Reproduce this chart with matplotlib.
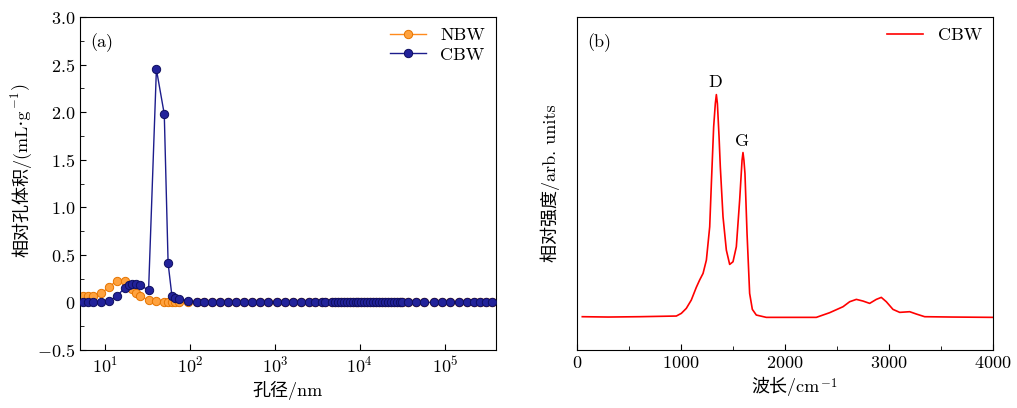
import matplotlib
matplotlib.use("Agg")
import matplotlib.pyplot as plt
from matplotlib.ticker import MultipleLocator, NullLocator, LogLocator, FuncFormatter

plt.rcParams["font.family"] = ["cmr10", "DejaVu Serif", "Noto Sans CJK SC"]
plt.rcParams["mathtext.fontset"] = "cm"
plt.rcParams["axes.formatter.use_mathtext"] = True
plt.rcParams["font.size"] = 13

# (a) pore size distribution, pore size in nm
pore_x = [5.5, 6.3, 7.3, 9.1, 11.1, 13.9, 17.1, 19.0, 21.0, 23.0, 26.0, 32.7,
          40.4, 50.0, 55.5, 61.5, 67.5, 74.0, 96.0,
          121, 148, 182, 225, 282, 350, 435, 545, 666, 834, 1047, 1313, 1616,
          2043, 2540, 2963, 3550, 3884,
          4700, 5100, 5500, 6000, 6500, 7000, 7600, 8200, 8900, 9600, 10400,
          11300, 12200, 13200, 14300, 15500, 16800, 18200, 19700, 21300, 23100,
          25000, 27100, 29300, 31700,
          36400, 45700, 56200, 73800, 92700, 116000, 145000, 183000, 219000,
          262000, 301000, 361000]
n_tail = len(pore_x) - 19
cbw_vol = [0, 0, 0, 0, 0.01, 0.07, 0.15, 0.18, 0.19, 0.19, 0.18, 0.13,
           2.45, 1.98, 0.41, 0.07, 0.05, 0.035, 0.02] + [0.0] * n_tail
nbw_vol = [0.065, 0.065, 0.065, 0.095, 0.16, 0.23, 0.22, 0.18, 0.14, 0.10,
           0.066, 0.025, 0.014, 0.007, 0.004, 0.003, 0.002, 0.002, 0.0] + [0.0] * n_tail

# (b) Raman spectrum of CBW
wavenumber = [51, 300, 600, 955, 1003, 1051, 1099, 1147, 1179, 1212, 1244,
              1276, 1292, 1314, 1330, 1340, 1350, 1366, 1378, 1404, 1436, 1468,
              1500, 1532, 1564, 1587, 1596, 1605, 1615, 1635, 1660, 1686, 1724,
              1820, 2000, 2301, 2429, 2558, 2622, 2686, 2750, 2814, 2878, 2926,
              2974, 3038, 3103, 3199, 3263, 3343, 3600, 4000]
intensity = [0.100, 0.099, 0.100, 0.102, 0.110, 0.125, 0.150, 0.188, 0.210,
             0.230, 0.270, 0.370, 0.500, 0.670, 0.740, 0.767, 0.740, 0.640,
             0.550, 0.400, 0.300, 0.257, 0.265, 0.310, 0.450, 0.570, 0.593,
             0.570, 0.530, 0.350, 0.170, 0.122, 0.105, 0.098, 0.098, 0.098,
             0.112, 0.130, 0.145, 0.152, 0.147, 0.140, 0.152, 0.158, 0.145,
             0.122, 0.113, 0.115, 0.108, 0.100, 0.099, 0.098]


def vol_fmt(v, pos):
    if abs(v) < 1e-9:
        return "$\\mathdefault{0}$"
    return "$\\mathdefault{%.1f}$" % v


fig = plt.figure(figsize=(10.17, 4.08), dpi=100)
ax1 = fig.add_axes([80 / 1017, 58 / 408, 416 / 1017, 333 / 408])
ax2 = fig.add_axes([577 / 1017, 58 / 408, 416 / 1017, 333 / 408])

ax1.plot(pore_x, nbw_vol, "-o", color="#ff8a1c", lw=1.0, ms=6,
         mfc="#ffa23e", mec="#e57400", mew=0.7, label="NBW", zorder=2)
ax1.plot(pore_x, cbw_vol, "-o", color="#1c1c8c", lw=1.0, ms=6,
         mfc="#22229a", mec="#0e0e60", mew=0.7, label="CBW", zorder=3)
ax1.set_xscale("log")
ax1.set_xlim(5.1, 4.0e5)
ax1.set_ylim(-0.5, 3.0)
ax1.yaxis.set_major_locator(MultipleLocator(0.5))
ax1.yaxis.set_minor_locator(MultipleLocator(0.25))
ax1.yaxis.set_major_formatter(FuncFormatter(vol_fmt))
ax1.xaxis.set_major_locator(LogLocator(base=10, numticks=10))
ax1.xaxis.set_minor_locator(NullLocator())
ax1.tick_params(direction="in", which="both", top=False, right=False)
ax1.tick_params(which="major", length=4)
ax1.tick_params(which="minor", length=3)
ax1.set_xlabel("孔径/nm", labelpad=4)
ax1.set_ylabel("相对孔体积/(mL\u22c5g", labelpad=4)
ax1.text(0.025, 0.95, "(a)", transform=ax1.transAxes, ha="left", va="top")
ax1.legend(loc="upper right", frameon=False, handlelength=2.0,
           borderaxespad=0.2, labelspacing=0.2)
# superscript and closing bracket continue the rotated y label
ax1.annotate("$^{-1}$)", xy=(1, 1), xycoords=ax1.yaxis.label,
             xytext=(-4.5, 0.5), textcoords="offset pixels",
             rotation=90, rotation_mode="anchor", ha="left", va="baseline")

ax2.plot(wavenumber, intensity, color="#ff0000", lw=1.2, label="CBW")
ax2.set_xlim(0, 4000)
ax2.set_ylim(0, 1)
ax2.xaxis.set_major_locator(MultipleLocator(1000))
ax2.xaxis.set_minor_locator(MultipleLocator(500))
ax2.yaxis.set_major_locator(NullLocator())
ax2.tick_params(direction="in", which="both", top=False, right=False)
ax2.tick_params(which="major", length=4)
ax2.tick_params(which="minor", length=3)
ax2.set_xlabel("波长/cm", labelpad=4)
ax2.set_ylabel("相对强度/arb. units", labelpad=12)
ax2.annotate("$^{-1}$", xy=(1, 0), xycoords=ax2.xaxis.label,
             xytext=(0.5, 4.5), textcoords="offset pixels",
             ha="left", va="baseline")
ax2.text(0.025, 0.95, "(b)", transform=ax2.transAxes, ha="left", va="top")
ax2.text(1330, 0.78, "D", ha="center", va="bottom")
ax2.text(1590, 0.605, "G", ha="center", va="bottom")
ax2.legend(loc="upper right", frameon=False, handlelength=2.0,
           borderaxespad=0.2)

fig.savefig("out.png", dpi=100)
